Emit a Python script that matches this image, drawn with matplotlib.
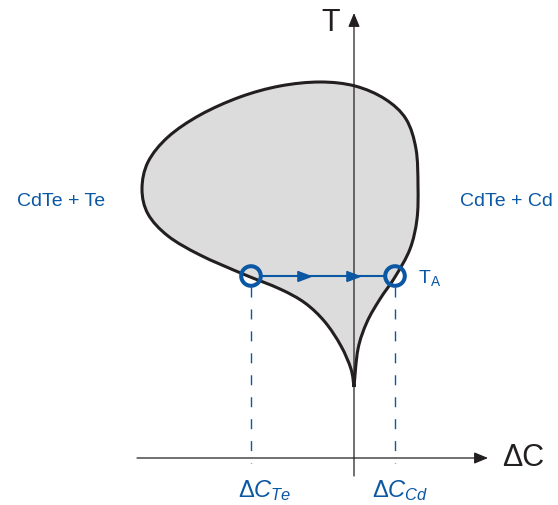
import numpy as np
import matplotlib
matplotlib.use("Agg")
import matplotlib.pyplot as plt
from matplotlib.path import Path
from matplotlib.patches import PathPatch, Circle

plt.rcParams['font.family'] = ['Liberation Sans', 'DejaVu Sans']
plt.rcParams['mathtext.fontset'] = 'custom'
plt.rcParams['mathtext.rm'] = 'Liberation Sans'
plt.rcParams['mathtext.it'] = 'Liberation Sans:italic'

# schematic coordinates (picture units, y downwards)
# two-phase region outline, starting and ending at the cusp
outline_x = [354, 358, 367, 380, 395, 410, 417, 418, 416, 406, 385, 355, 320,
             280, 240, 200, 168, 148, 142, 148, 168, 200, 243, 280, 305, 325,
             341, 351, 354]
outline_y = [388, 350, 323, 300, 278, 250, 220, 187, 150, 120, 100, 87, 83,
             87, 98, 116, 138, 163, 190, 215, 237, 256, 275, 290, 304, 323,
             347, 370, 388]

# annealing temperature line and the two solubility limits
t_anneal = 277
dc_te = 251
dc_cd = 395
origin_x = 354
origin_y = 459

BLUE = '#0a57a4'
DARK = '#231f20'


def smooth_path(xs, ys):
    # catmull-rom through the points, handed to matplotlib as cubic beziers
    p = np.column_stack([xs, ys]).astype(float)
    n = len(p)
    verts = [p[0]]
    codes = [Path.MOVETO]
    for i in range(n - 1):
        p0 = p[i - 1] if i > 0 else p[i]
        p3 = p[i + 2] if i + 2 < n else p[i + 1]
        c1 = p[i] + (p[i + 1] - p0) / 6
        c2 = p[i + 1] - (p3 - p[i]) / 6
        verts += [c1, c2, p[i + 1]]
        codes += [Path.CURVE4] * 3
    return Path(verts, codes)


fig = plt.figure(figsize=(5.58, 5.06), dpi=100)
ax = fig.add_axes([0, 0, 1, 1])
ax.set_xlim(0, 558)
ax.set_ylim(506, 0)
ax.axis('off')

path = smooth_path(outline_x, outline_y)
ax.add_patch(PathPatch(path, facecolor='#dcdcdc', edgecolor='none', zorder=1))

# axes with arrows
ax.annotate('', xy=(origin_x, 14), xytext=(origin_x, 477),
            arrowprops=dict(arrowstyle='-|>,head_length=0.6,head_width=0.25',
                            mutation_scale=14, color=DARK, lw=0.9,
                            shrinkA=0, shrinkB=0), zorder=2)
ax.annotate('', xy=(488, origin_y), xytext=(137, origin_y),
            arrowprops=dict(arrowstyle='-|>,head_length=0.6,head_width=0.25',
                            mutation_scale=14, color=DARK, lw=0.9,
                            shrinkA=0, shrinkB=0), zorder=2)

ax.add_patch(PathPatch(path, facecolor='none', edgecolor=DARK, lw=2.2,
                       joinstyle='miter', zorder=3))

# dashed drop lines
for x in (dc_te, dc_cd):
    ax.plot([x, x], [t_anneal + 11, origin_y + 5], color=BLUE, lw=1.0,
            dashes=(7.2, 8.6), zorder=2)

# tie line with arrows
ax.plot([dc_te + 10, dc_cd - 10], [t_anneal, t_anneal], color=BLUE, lw=1.5,
        zorder=4)
head = [(-1, -0.75), (1, 0), (-1, 0.75), (-1, -0.75)]
ax.plot([303.5, 352.5], [t_anneal, t_anneal], ls='none', marker=head,
        markersize=9.5, color=BLUE, zorder=4)
for x in (dc_te, dc_cd):
    ax.add_patch(Circle((x, t_anneal), 9.8, facecolor='none', edgecolor=BLUE,
                        lw=2.9, zorder=5))

# labels
ax.text(331, 23, 'T', fontsize=22, ha='center', va='center', color=DARK)
ax.text(502, 458, 'ΔC', fontsize=22, ha='left', va='center', color=DARK)
ax.text(61, 201, 'CdTe + Te', fontsize=14, ha='center', va='center', color=BLUE)
ax.text(460, 201, 'CdTe + Cd', fontsize=14, ha='left', va='center', color=BLUE)
ax.text(418, 283, r'$\mathrm{T}_\mathrm{A}$', fontsize=14, ha='left',
        va='baseline', color=BLUE)
ax.text(238, 497, r'$\Delta C_{Te}$', fontsize=17, ha='left', va='baseline',
        color=BLUE)
ax.text(372, 497, r'$\Delta C_{Cd}$', fontsize=17, ha='left', va='baseline',
        color=BLUE)

fig.savefig('out.png', dpi=100)
